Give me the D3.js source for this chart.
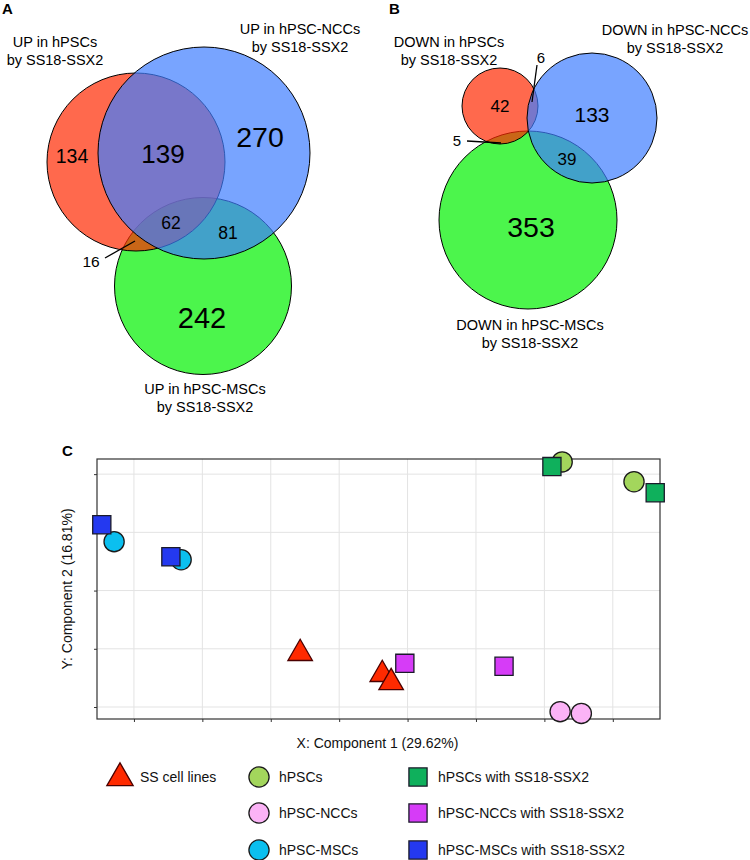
<!DOCTYPE html>
<html>
<head>
<meta charset="utf-8">
<script src="https://cdn.jsdelivr.net/npm/d3@7"></script>
<style>
  html, body { margin: 0; padding: 0; background: #fff; }
  svg { display: block; font-family: "Liberation Sans", Arial, sans-serif; }
</style>
</head>
<body>
<svg id="chart" width="750" height="860"></svg>
<script>
// ---------------- DATA ----------------
// Panel A: genes UP by SS18-SSX2
const upSetNames = ["UP in hPSC-MSCs", "UP in hPSCs", "UP in hPSC-NCCs"];
const upRegionLabels = ["134", "139", "270", "62", "81", "16", "242"];
const upRegionCounts = [134, 139, 270, 62, 81, 16, 242];

// Panel B: genes DOWN by SS18-SSX2
const downSetNames = ["DOWN in hPSC-MSCs", "DOWN in hPSCs", "DOWN in hPSC-NCCs"];
const downRegionCounts = [42, 6, 133, 5, 39, 353];

// Panel C: PCA
const pcaGroups = ["SS cell lines", "hPSCs", "hPSC-NCCs", "hPSC-MSCs",
                   "hPSCs with SS18-SSX2", "hPSC-NCCs with SS18-SSX2", "hPSC-MSCs with SS18-SSX2"];
const pcaShapes = ["triangle", "circle", "circle", "circle", "square", "square", "square"];
const pcaColors = ["#ff2a00", "#a3d65c", "#fbb3f6", "#0bbfef", "#0fb05c", "#d63cf7", "#2439f0"];
// sample index -> group index
const sampleGroup = [3, 3, 1, 1, 2, 2, 6, 6, 4, 4, 0, 0, 0, 5, 5];
const sampleX     = [-32.9, -23.1, 32.6, 43.1, 32.3, 35.4, -34.7, -24.6, 31.1, 46.2, -5.7, 6.3, 7.6, 9.6, 24.1];
const sampleY     = [8.4, 5.3, 22.1, 18.7, -20.8, -21.1, 11.3, 5.8, 21.3, 16.8, -10.8, -14.4, -15.8, -12.5, -13.0];
const xTickValues = [-30, -20, -10, 0, 10, 20, 30, 40];
const yTickValues = [-20, -10, 0, 10, 20];
const xAxisTitle = "X: Component 1 (29.62%)";
const yAxisTitle = "Y: Component 2 (16.81%)";

// ---------------- LAYOUT ----------------
const svg = d3.select("#chart");
const FONT = "'Liberation Sans', Arial, sans-serif";
const vennFill = ["#00f100", "#ff2a02", "#3e7dff"]; // green, red, blue (draw order)

function panelLetter(t, x, y) {
  svg.append("text").attr("x", x).attr("y", y).text(t)
    .attr("font-weight", "bold").attr("font-size", 15).attr("fill", "#000");
}

function drawVenn(g, circles, setLabels, numbers, leaders) {
  g.selectAll("circle.set").data(circles).join("circle")
    .attr("class", "set")
    .attr("cx", d => d.cx).attr("cy", d => d.cy).attr("r", d => d.r)
    .attr("fill", (d, i) => vennFill[i]).attr("fill-opacity", 0.7)
    .attr("stroke", "#000").attr("stroke-width", 1);
  leaders.forEach(l => {
    g.append("line").attr("x1", l[0]).attr("y1", l[1]).attr("x2", l[2]).attr("y2", l[3])
      .attr("stroke", "#000").attr("stroke-width", 1.3);
  });
  numbers.forEach(n => {
    g.append("text").attr("x", n.x).attr("y", n.y).attr("text-anchor", "middle")
      .attr("font-size", n.fs).attr("fill", "#000").text(n.t);
  });
  setLabels.forEach(s => {
    const t = g.append("text").attr("text-anchor", "middle").attr("font-size", 14.5).attr("fill", "#000");
    t.append("tspan").attr("x", s.x).attr("y", s.y).text(s.name);
    t.append("tspan").attr("x", s.x).attr("y", s.y + 18).text("by SS18-SSX2");
  });
}

// Panel A
panelLetter("A", 2, 14);
const gA = svg.append("g");
drawVenn(gA,
  [{cx: 203, cy: 286, r: 88.5}, {cx: 136, cy: 162, r: 89}, {cx: 204, cy: 153, r: 106}],
  [{name: upSetNames[1], x: 55, y: 47}, {name: upSetNames[2], x: 300, y: 34}, {name: upSetNames[0], x: 205, y: 394}],
  [
    {t: upRegionCounts[0], x: 72, y: 163, fs: 19.5},
    {t: upRegionCounts[1], x: 163, y: 163, fs: 26},
    {t: upRegionCounts[2], x: 260, y: 147, fs: 28.5},
    {t: upRegionCounts[3], x: 171, y: 229, fs: 17.5},
    {t: upRegionCounts[4], x: 228, y: 239, fs: 17.5},
    {t: upRegionCounts[5], x: 91, y: 267, fs: 15.5},
    {t: upRegionCounts[6], x: 202, y: 328, fs: 29}
  ],
  [[105, 258, 135, 241]]
);

// Panel B
panelLetter("B", 389, 14);
const gB = svg.append("g");
drawVenn(gB,
  [{cx: 528, cy: 220, r: 89}, {cx: 500, cy: 106, r: 38}, {cx: 592, cy: 118, r: 65}],
  [{name: downSetNames[1], x: 449, y: 47}, {name: downSetNames[2], x: 675, y: 35}, {name: downSetNames[0], x: 530, y: 330}],
  [
    {t: downRegionCounts[0], x: 500, y: 112, fs: 17},
    {t: downRegionCounts[1], x: 541, y: 63, fs: 15},
    {t: downRegionCounts[2], x: 592, y: 122, fs: 21},
    {t: downRegionCounts[3], x: 457, y: 146, fs: 15},
    {t: downRegionCounts[4], x: 567, y: 165, fs: 17},
    {t: downRegionCounts[5], x: 531, y: 237, fs: 28.5}
  ],
  [[537, 65, 532, 102], [467, 141, 501, 143]]
);

// Panel C
panelLetter("C", 62, 456);
const plot = {left: 97, right: 660, top: 459, bottom: 719};
const x = d3.scaleLinear().domain([-35.4, 46.9]).range([plot.left, plot.right]);
const y = d3.scaleLinear().domain([-22.06, 22.6]).range([plot.bottom, plot.top]);
const gC = svg.append("g");

// gridlines
gC.append("g").selectAll("line").data(xTickValues).join("line")
  .attr("x1", d => x(d)).attr("x2", d => x(d)).attr("y1", plot.top).attr("y2", plot.bottom)
  .attr("stroke", "#e3e3e3").attr("stroke-width", 1);
gC.append("g").selectAll("line").data(yTickValues).join("line")
  .attr("y1", d => y(d)).attr("y2", d => y(d)).attr("x1", plot.left).attr("x2", plot.right)
  .attr("stroke", "#e3e3e3").attr("stroke-width", 1);

// axes (ticks only, labels unreadable in source)
const xAxis = d3.axisBottom(x).tickValues(xTickValues).tickSize(3).tickFormat("");
const yAxis = d3.axisLeft(y).tickValues(yTickValues).tickSize(3).tickFormat("");
gC.append("g").attr("transform", `translate(0,${plot.bottom})`).call(xAxis)
  .call(a => a.select(".domain").remove())
  .call(a => a.selectAll("line").attr("stroke", "#333"));
gC.append("g").attr("transform", `translate(${plot.left},0)`).call(yAxis)
  .call(a => a.select(".domain").remove())
  .call(a => a.selectAll("line").attr("stroke", "#333"));

// frame
gC.append("rect").attr("x", plot.left).attr("y", plot.top)
  .attr("width", plot.right - plot.left).attr("height", plot.bottom - plot.top)
  .attr("fill", "none").attr("stroke", "#333").attr("stroke-width", 1.2);

// axis titles
gC.append("text").attr("x", (plot.left + plot.right) / 2 - 1).attr("y", 748)
  .attr("text-anchor", "middle").attr("font-size", 14).attr("fill", "#111").text(xAxisTitle);
gC.append("text").attr("transform", `translate(72,${(plot.top + plot.bottom) / 2}) rotate(-90)`)
  .attr("text-anchor", "middle").attr("font-size", 14).attr("fill", "#111").text(yAxisTitle);

// symbols
const symType = {circle: d3.symbolCircle, square: d3.symbolSquare, triangle: d3.symbolTriangle};
const symSize = {circle: 320, square: 330, triangle: 260};
const symStroke = {circle: "#1a1a1a", square: "#1a1a2a", triangle: "#4a0000"};
const samples = sampleX.map((v, i) => ({x: v, y: sampleY[i], g: sampleGroup[i]}));
const shapeOrder = {circle: 0, square: 1, triangle: 2};
samples.sort((a, b) => shapeOrder[pcaShapes[a.g]] - shapeOrder[pcaShapes[b.g]]);
gC.append("g").selectAll("path").data(samples).join("path")
  .attr("transform", d => `translate(${x(d.x)},${y(d.y)})`)
  .attr("d", d => d3.symbol(symType[pcaShapes[d.g]], symSize[pcaShapes[d.g]])())
  .attr("fill", d => pcaColors[d.g])
  .attr("stroke", d => symStroke[pcaShapes[d.g]]).attr("stroke-width", 1.3);

// legend
const legendCols = [120, 259, 418];
const legendRows = [777, 813, 850];
const legendPos = [[0, 0], [1, 0], [1, 1], [1, 2], [2, 0], [2, 1], [2, 2]];
const lg = svg.append("g");
pcaGroups.forEach((name, i) => {
  const cx = legendCols[legendPos[i][0]], cy = legendRows[legendPos[i][1]];
  const shp = pcaShapes[i];
  const big = shp === "triangle" ? 300 : symSize[shp];
  lg.append("path").attr("transform", `translate(${cx},${cy + (shp === "triangle" ? 1 : 0)})`)
    .attr("d", d3.symbol(symType[shp], big)())
    .attr("fill", pcaColors[i]).attr("stroke", symStroke[shp]).attr("stroke-width", 1.3);
  lg.append("text").attr("x", cx + (shp === "triangle" ? 20 : 20)).attr("y", cy + 5)
    .attr("font-size", 14).attr("fill", "#111").text(name);
});
</script>
</body>
</html>
